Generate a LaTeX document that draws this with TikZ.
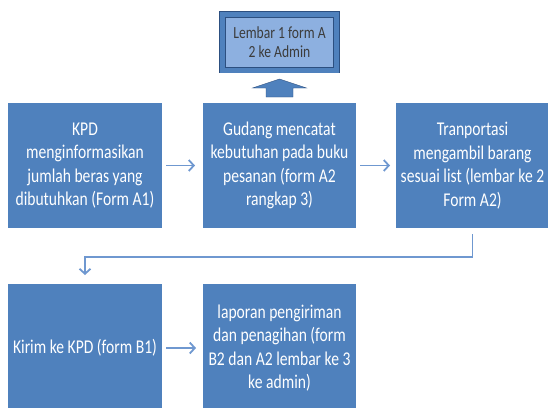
\documentclass[tikz,border=0pt]{standalone}
\usepackage{fontspec}
\setmainfont{Carlito}[FakeStretch=0.8]
\usetikzlibrary{positioning, calc, arrows.meta}
\definecolor{biru}{RGB}{79,129,189}
\definecolor{birumuda}{RGB}{141,176,224}
\definecolor{birutua}{RGB}{44,79,128}
\definecolor{garis}{RGB}{111,152,208}
\definecolor{abu}{RGB}{60,60,60}

\begin{document}
\begin{tikzpicture}[x=1pt, y=-1pt,
    blok/.style={rectangle,
                 fill=biru,
                 text=white,
                 align=center,
                 inner sep=0pt,
                 outer sep=0pt,
                 minimum width=153pt,
                 minimum height=125pt,
                 font=\fontsize{19.5}{23.5}\selectfont},
    alur/.style={draw=garis,
                 line width=1.8pt,
                 -{Straight Barb[length=5pt, width=11pt]}}]

    \path[use as bounding box, clip] (0,0) rectangle (548,407);

    \node[blok, minimum width=154pt] (kpd) at (85,165.5)
        {KPD\\menginformasikan\\jumlah beras yang\\dibutuhkan (Form A1)};
    \node[blok,
          right=41pt of kpd] (gudang)
        {Gudang mencatat\\kebutuhan pada buku\\pesanan (form A2\\rangkap 3)};
    \node[blok,
          right=40pt of gudang] (trans)
        {Tranportasi\\mengambil barang\\sesuai list (lembar ke 2\\Form A2)};
    \node[blok,
          minimum width=154pt,
          minimum height=128pt,
          below=56pt of kpd] (kirim)
        {Kirim ke KPD (form B1)};
    \node[blok,
          minimum height=128pt,
          right=41pt of kirim] (laporan)
        {laporan pengiriman\\dan penagihan (form\\B2 dan A2 lembar ke 3\\ke admin)};

    \node[rectangle,
          fill=birumuda,
          draw=birutua,
          double=biru,
          double distance=5pt,
          line width=0.8pt,
          outer sep=0pt,
          minimum width=114pt,
          minimum height=55.5pt,
          text=abu,
          align=center,
          font=\fontsize{17}{19.5}\selectfont,
          above=33pt of gudang] (admin)
        {Lembar 1 form A\\2 ke Admin};

    \filldraw[fill=biru, draw=birutua, line width=0.4pt]
        ($(gudang.north)+(-13.5,-6)$) -- ++(0,-9) -- ++(-13.5,0)
        -- ++(27,-9) -- ++(27,9) -- ++(-13.5,0) -- ++(0,9) -- cycle;

    \coordinate (belok) at ($(trans.south)+(0,29)$);

    \draw[alur, shorten <=4pt, shorten >=8pt] (kpd) -- (gudang);
    \draw[alur, shorten <=4pt, shorten >=6pt] (gudang) -- (trans);
    \draw[alur, shorten <=4pt, shorten >=7pt] (kirim) -- (laporan);
    \draw[alur, shorten <=6pt, shorten >=9pt]
        (trans.south) -- (belok) -| (kirim.north);
\end{tikzpicture}
\end{document}
